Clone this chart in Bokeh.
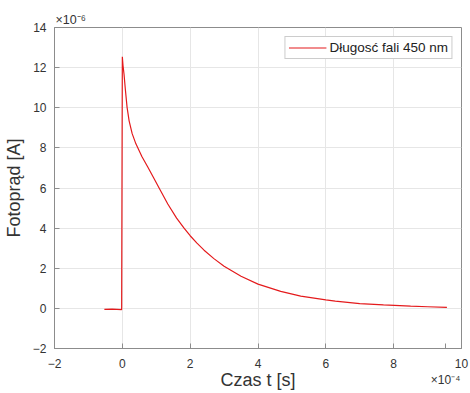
from bokeh.plotting import figure
from bokeh.models import (ColumnDataSource, FixedTicker, Legend,
                          LegendItem, Range1d, Title)
from bokeh.embed import file_html
from bokeh.resources import INLINE

# time in units of 1e-4 s, current in units of 1e-6 A
time_e4 = [-0.53, -0.3, -0.02, 0.0, 0.02, 0.05, 0.09, 0.14, 0.2, 0.29, 0.4, 0.58,
           0.75, 0.91, 1.1, 1.34, 1.6, 1.82, 2.0, 2.2, 2.41, 2.7, 3.0, 3.5, 4.0,
           4.67, 5.26, 6.0, 6.28, 7.0, 7.7, 8.5, 9.0, 9.57]
current_e6 = [-0.05, -0.04, -0.06, 12.54, 12.1, 11.67, 10.9, 10.02, 9.35, 8.71, 8.2,
              7.56, 7.05, 6.55, 5.95, 5.2, 4.5, 4.0, 3.62, 3.25, 2.9, 2.48, 2.1, 1.6,
              1.21, 0.85, 0.61, 0.42, 0.36, 0.24, 0.17, 0.11, 0.08, 0.05]
x_ticks = [-2, 0, 2, 4, 6, 8, 10]
y_ticks = [-2, 0, 2, 4, 6, 8, 10, 12, 14]
series_label = "Długosć fali 450 nm"
y_exponent = "×10⁻⁶"
x_exponent = "×10⁻⁴"
x_exponent_at = 9.53   # where the x exponent sits along the axis

src = ColumnDataSource(dict(t=time_e4, i=current_e6))

AX = "#8c8c8c"
TXT = "#333333"
FONT = "Liberation Sans"
W, H = 470, 393

p = figure(width=W, height=H, output_backend="svg", toolbar_location=None,
           x_range=Range1d(-2, 10), y_range=Range1d(-2, 14),
           min_border_left=52, min_border_right=9, min_border_top=27,
           min_border_bottom=44)
p.outline_line_color = AX
p.outline_line_width = 1

r = p.line("t", "i", source=src, line_color="#e41a1c", line_width=1.2)

for ax in p.xaxis + p.yaxis:
    ax.axis_line_color = AX
    ax.major_tick_line_color = AX
    ax.major_tick_in = 5
    ax.major_tick_out = 0
    ax.minor_tick_line_color = None
    ax.major_label_text_font = FONT
    ax.major_label_text_font_size = "12px"
    ax.major_label_text_color = TXT
    ax.axis_label_text_font = FONT
    ax.axis_label_text_font_size = "18px"
    ax.axis_label_text_font_style = "normal"
    ax.axis_label_text_color = TXT

p.xaxis.ticker = FixedTicker(ticks=x_ticks + [x_exponent_at])
p.xaxis.major_label_overrides = {x_exponent_at: "\n" + x_exponent}
p.yaxis.ticker = FixedTicker(ticks=y_ticks)
p.xaxis.axis_label = "Czas t [s]"
p.yaxis.axis_label = "Fotoprąd [A]"
p.xaxis.major_label_standoff = 8
p.xaxis.axis_label_standoff = -20
p.yaxis.major_label_standoff = 8
p.yaxis.axis_label_standoff = 6

p.xgrid.ticker = FixedTicker(ticks=x_ticks)
p.ygrid.ticker = FixedTicker(ticks=y_ticks)
p.grid.grid_line_color = "#e6e6e6"
p.grid.grid_line_width = 1

p.add_layout(Title(text=y_exponent, align="left", offset=1, standoff=1,
                   text_font=FONT, text_font_size="12.5px", text_font_style="normal",
                   text_color=TXT), "above")

legend = Legend(items=[LegendItem(label=series_label, renderers=[r])],
                location="top_right", margin=9, padding=3, spacing=0,
                glyph_width=38, glyph_height=13, label_standoff=3,
                label_text_font=FONT, label_text_font_size="13.5px",
                label_text_color="#222222", border_line_color="#9a9a9a",
                background_fill_color="white", background_fill_alpha=1)
p.add_layout(legend)

open("out.html", "w").write(file_html(p, INLINE))
